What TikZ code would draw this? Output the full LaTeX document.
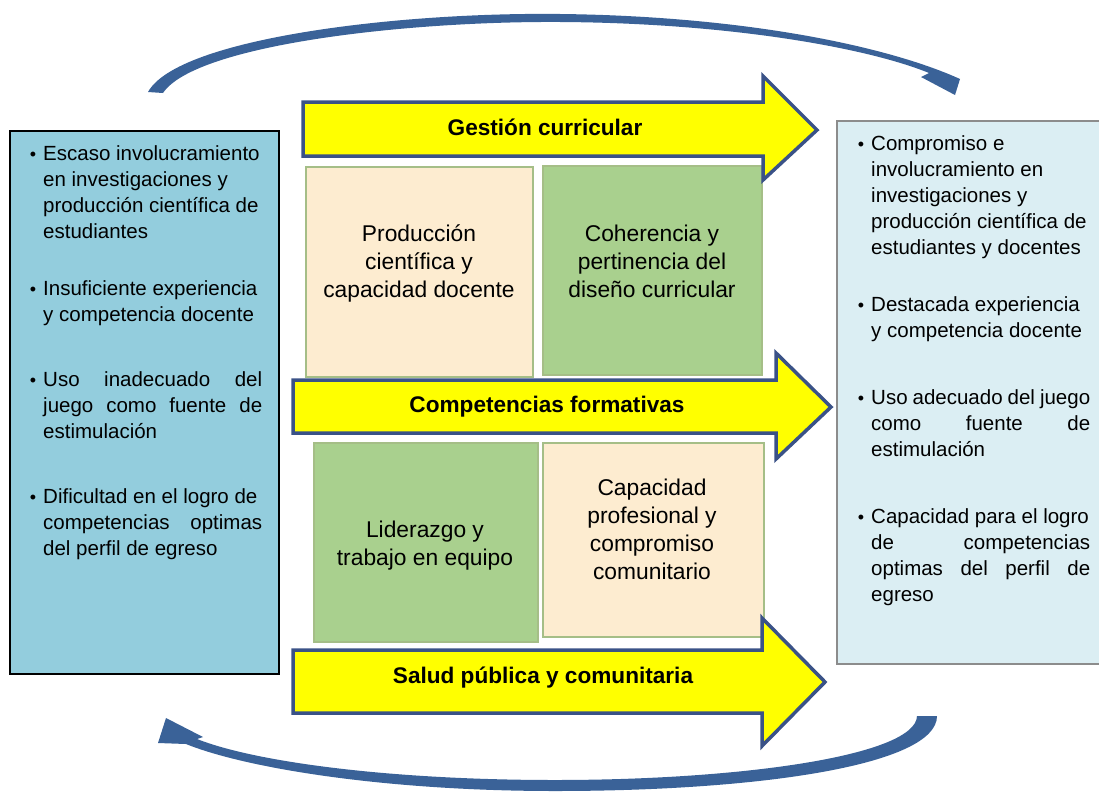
\documentclass[tikz,border=0pt]{standalone}
\usepackage{fontspec}
\setmainfont{Liberation Sans}
\definecolor{arcblue}{RGB}{58,98,152}
\definecolor{arrowborder}{RGB}{58,82,135}
\definecolor{arrowyellow}{RGB}{255,255,0}
\definecolor{leftfill}{RGB}{147,205,221}
\definecolor{rightfill}{RGB}{219,238,243}
\definecolor{rightborder}{RGB}{140,140,140}
\definecolor{peach}{RGB}{253,236,208}
\definecolor{greenbox}{RGB}{169,208,142}
\definecolor{boxborder}{RGB}{165,190,135}
\newcommand{\jline}[1]{\makebox[219pt][s]{#1}}
\begin{document}
\begin{tikzpicture}[x=1pt,y=-1pt,
  blockarrow/.style={fill=arrowyellow, draw=arrowborder, line width=3.5pt, line join=miter},
  arcshape/.style={fill=arcblue, draw=none},
  innerbox/.style={draw=boxborder, line width=1.5pt},
  lbl/.style={inner sep=0pt, anchor=base, font=\fontsize{22.6}{27}\selectfont\bfseries},
  boxtxt/.style={inner sep=0pt, anchor=base, font=\fontsize{22.8}{28}\selectfont},
  sidetxt/.style={inner sep=0pt, anchor=base west, font=\fontsize{20.5}{26}\selectfont},
  bul/.style={inner sep=0pt, anchor=base, font=\fontsize{18}{26}\selectfont},
]
\useasboundingbox (0,0) rectangle (1099,792);

% curved arrows
\path[arcshape] (148,92) .. controls (178,38) and (400,12) .. (560,14)
  .. controls (740,16) and (885,45) .. (960,79) -- (955,95) -- (921,77) -- (929,73)
  .. controls (868,48) and (730,23) .. (560,22)
  .. controls (405,21) and (195,45) .. (163,93) -- cycle;
\path[arcshape] (937,716) .. controls (937,765) and (760,791) .. (555,791)
  .. controls (385,791) and (245,768) .. (186,744) -- (158,743) -- (166,718) -- (203,737) -- (197,739)
  .. controls (255,762) and (390,780) .. (555,780)
  .. controls (745,780) and (916,755) .. (917,716) -- cycle;

% side boxes
\draw[fill=leftfill, draw=black, line width=1.5pt] (10,131) rectangle (279,674);
\draw[fill=rightfill, draw=rightborder, line width=1.5pt] (837,121) rectangle (1104,664);

% inner boxes
\draw[innerbox, fill=peach] (306,167) rectangle (533,377);
\draw[innerbox, fill=greenbox] (543,166) rectangle (762,375);
\draw[innerbox, fill=greenbox] (314,443) rectangle (538,642);
\draw[innerbox, fill=peach] (543,443) rectangle (764,637);

% block arrows
\draw[blockarrow] (303,102) -- (763,102) -- (763,76) -- (817,130) -- (763,180) -- (763,156) -- (303,156) -- cycle;
\draw[blockarrow] (293,380) -- (776,380) -- (776,353) -- (831,407) -- (776,459) -- (776,433) -- (293,433) -- cycle;
\draw[blockarrow] (293,650) -- (762,650) -- (762,618) -- (825,682) -- (762,746) -- (762,713) -- (293,713) -- cycle;

% arrow labels
\node[lbl] (gc) at (545,135) {Gestión curricular};
\node[lbl] (cf) at (547,412) {Competencias formativas};
\node[lbl] (sp) at (543,683) {Salud pública y comunitaria};

% inner box texts
\node[boxtxt] (b1) at (419,241) {\parbox[t]{220pt}{\centering Producción\\científica y\\capacidad docente}};
\node[boxtxt] (b2) at (652,241) {\parbox[t]{220pt}{\centering Coherencia y\\pertinencia del\\diseño curricular}};
\node[boxtxt] (b3) at (425,537) {\parbox[t]{220pt}{\centering Liderazgo y\\trabajo en equipo}};
\node[boxtxt] (b4) at (652,495) {\parbox[t]{220pt}{\centering Capacidad\\profesional y\\compromiso\\comunitario}};

% left box items
\node[bul] (lb1) at (33,160) {\textbullet};
\node[sidetxt] (l1) at (43,160) {\parbox[t]{219pt}{Escaso involucramiento\\en investigaciones y\\producción científica de\\estudiantes}};
\node[bul] (lb2) at (33,295) {\textbullet};
\node[sidetxt] (l2) at (43,295) {\parbox[t]{219pt}{Insuficiente experiencia\\y competencia docente}};
\node[bul] (lb3) at (33,386) {\textbullet};
\node[sidetxt] (l3) at (43,386) {\parbox[t]{219pt}{\jline{Uso inadecuado del}\\\jline{juego como fuente de}\\estimulación}};
\node[bul] (lb4) at (33,503) {\textbullet};
\node[sidetxt] (l4) at (43,503) {\parbox[t]{219pt}{Dificultad en el logro de\\\jline{competencias optimas}\\del perfil de egreso}};

% right box items
\node[bul] (rb1) at (861,150) {\textbullet};
\node[sidetxt] (r1) at (871,150) {\parbox[t]{219pt}{Compromiso e\\involucramiento en\\investigaciones y\\producción científica de\\estudiantes y docentes}};
\node[bul] (rb2) at (861,311) {\textbullet};
\node[sidetxt] (r2) at (871,311) {\parbox[t]{219pt}{Destacada experiencia\\y competencia docente}};
\node[bul] (rb3) at (861,404) {\textbullet};
\node[sidetxt] (r3) at (871,404) {\parbox[t]{219pt}{Uso adecuado del juego\\\jline{como fuente de}\\estimulación}};
\node[bul] (rb4) at (861,523) {\textbullet};
\node[sidetxt] (r4) at (871,523) {\parbox[t]{219pt}{Capacidad para el logro\\\jline{de competencias}\\\jline{optimas del perfil de}\\egreso}};
\end{tikzpicture}
\end{document}
